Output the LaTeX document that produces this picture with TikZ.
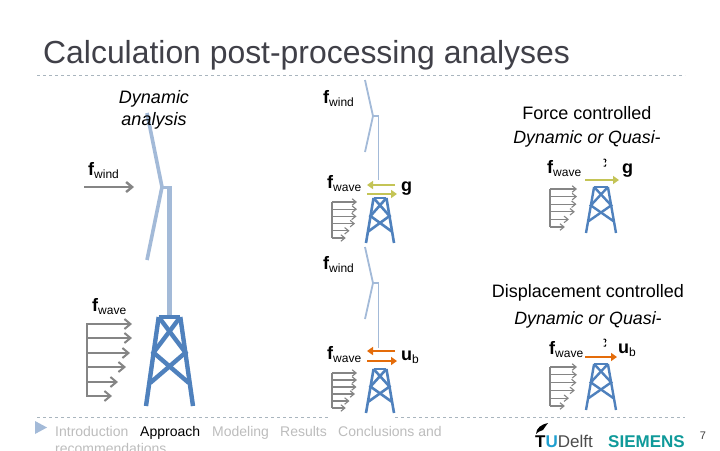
\documentclass[tikz,border=0pt]{standalone}
\usepackage{fontspec}
\setmainfont{Liberation Sans}
\usetikzlibrary{arrows.meta}
\definecolor{towerblue}{HTML}{A3BAD8}
\definecolor{jacketblue}{HTML}{4F81BD}
\definecolor{loadgray}{HTML}{858585}
\definecolor{forceyellow}{HTML}{C4C456}
\definecolor{dispOrange}{HTML}{E46C0A}
\definecolor{ruleGray}{HTML}{A9B5BE}
\definecolor{navGray}{HTML}{BDBDBD}
\definecolor{siemensTeal}{HTML}{0F9A9A}
\definecolor{delftBlue}{HTML}{1F9FD0}
\definecolor{titleGray}{HTML}{404048}
\tikzset{
  loadarrow/.style={-{Straight Barb[length=4pt,width=6.5pt]}, loadgray, line width=1.1pt},
  bigload/.style={-{Straight Barb[length=6pt,width=10pt]}, loadgray, line width=2.4pt},
  turnline/.style={towerblue, line width=1.8pt},
  forcearrow/.style={-{Triangle[length=6pt,width=8pt]}, forceyellow, line width=2.6pt},
  disparrow/.style={-{Triangle[length=6pt,width=8pt]}, dispOrange, line width=2.6pt},
  loadlabel/.style={inner sep=0pt, anchor=base west, font=\fontsize{18}{18}\selectfont},
  sublabel/.style={inner sep=0pt, font=\fontsize{18}{23}\selectfont, align=center},
  navitem/.style={inner sep=0pt, anchor=base west, navGray, font=\fontsize{14}{14}\selectfont},
  % blades and nacelle, origin at the hub
  pics/rotor/.style={code={
    \draw[turnline] (-8,-36) -- (0,0) -- (-8,36);
    \draw[turnline] (0,0) -- (6,0);
  }},
  % jacket, origin at top centre: line width, full width, full height
  pics/jacket/.style n args={3}{code={
    \begin{scope}[xscale=#2,yscale=#3,jacketblue,line width=#1]
      \draw (-.23,0) -- (.23,0);
      \draw (-.23,0) -- (-.5,1) (.23,0) -- (.5,1);
      \draw (-.23,0) -- (.34,.40) -- (-.41,.74);
      \draw (.23,0) -- (-.34,.40) -- (.41,.74);
    \end{scope}
  }},
  % wave profile, origin at top of the vertical bar: full length, full height
  pics/waveload/.style n args={2}{code={
    \begin{scope}[xscale=#1,yscale=#2]
      \draw[loadgray, line width=1.2pt] (0,0) -- (0,1);
      \foreach \y/\len in {0/1, .2/1, .4/.98, .6/.92, .8/.7, 1/.55}
        \draw[loadarrow] (0,\y) -- (\len,\y);
    \end{scope}
  }},
}
\newcommand{\subtext}[1]{\raisebox{-3.5pt}{\fontsize{12}{12}\selectfont #1}}
\newcommand{\fwind}{\textbf{f}\subtext{wind}}
\newcommand{\fwave}{\textbf{f}\subtext{wave}}
\newcommand{\ubase}{\textbf{u}\subtext{b}}
\begin{document}
\begin{tikzpicture}[x=1pt,y=-1pt]
\clip (0,0) rectangle (720,450);
\fill[white] (0,0) rectangle (720,450);

% title and rules
\node[inner sep=0pt, anchor=base west, titleGray, font=\fontsize{31.9}{32}\selectfont] (title) at (43,63) {Calculation post-processing analyses};
\draw[ruleGray, dashed] (37,75) -- (685,75);
\draw[ruleGray, dashed] (37,417) -- (328,417) (395,417) -- (685,417);

% large turbine
\draw[towerblue, line width=3.6pt] (147,113) -- (162,187) -- (147,260);
\draw[towerblue, line width=3pt] (162,187) -- (170,187);
\draw[towerblue, line width=4.4pt] (169.5,186) -- (169.5,317);
\pic at (169.5,317) {jacket={4.4pt}{47}{89}};
\node[sublabel, font=\fontsize{18}{22}\itshape] (dynamic) at (154,110) {Dynamic\\analysis};
\node[loadlabel] (fwindA) at (88,175) {\fwind};
\node[loadlabel] (fwaveA) at (92,311) {\fwave};
\coordinate (windA) at (84,187);
\coordinate (windB) at (134,187);
\draw[bigload] (windA) -- (windB);
\draw[loadgray, line width=2pt] (87.3,323) -- (87.3,397);
\foreach \y/\xend in {324/132, 338/132, 353/130, 367/126, 382/118, 396/112}
  \draw[bigload, line width=2pt] (87.3,\y) -- (\xend,\y);

% force controlled, dynamic
\pic at (373,116) {rotor};
\draw[turnline] (378.5,116) -- (378.5,180);
\pic at (380,198) {jacket={2.6pt}{28}{45}};
\pic at (332,202) {waveload={25}{36}};
\node[loadlabel] (fwindB) at (323,103) {\fwind};
\node[loadlabel] (fwaveB) at (327,188) {\fwave};
\node[loadlabel] (gB) at (401,191) {\textbf{g}};
\coordinate (gTopA) at (395,185);
\coordinate (gTopB) at (367,185);
\coordinate (gLowA) at (367,194);
\coordinate (gLowB) at (397,194);
\draw[forcearrow] (gTopA) -- (gTopB);
\draw[forcearrow] (gLowA) -- (gLowB);

% displacement controlled, dynamic
\pic at (373,283) {rotor};
\draw[turnline] (378.5,283) -- (378.5,348);
\pic at (380,369) {jacket={2.6pt}{28}{44}};
\pic at (332,373) {waveload={25}{35}};
\node[loadlabel] (fwindC) at (323,269) {\fwind};
\node[loadlabel] (fwaveC) at (327,359) {\fwave};
\node[loadlabel] (ubC) at (401,360) {\ubase};
\coordinate (uTopA) at (395,351);
\coordinate (uTopB) at (367,351);
\coordinate (uLowA) at (367,361);
\coordinate (uLowB) at (397,361);
\draw[disparrow] (uTopA) -- (uTopB);
\draw[disparrow] (uLowA) -- (uLowB);

% force controlled, quasi-static
\node[sublabel] (forceT) at (587,113) {Force controlled};
\node[sublabel, font=\fontsize{17.8}{20}\itshape] (forceS) at (587,139) {Dynamic or Quasi-};
\node[loadlabel] (fwaveD) at (547,173) {\fwave};
\node[loadlabel] (gD) at (622,173) {\textbf{g}};
\coordinate (gA) at (585,180);
\coordinate (gB) at (619,180);
\draw[forcearrow] (gA) -- (gB);
\draw[line width=1pt] (603.5,159) .. controls (606.5,158.5) and (606.5,162) .. (605,162.5) (606,164.5) .. controls (606,166) and (605,166.5) .. (603.5,166);
\pic at (601,187) {jacket={2.4pt}{30}{46}};
\pic at (550,189) {waveload={27}{38}};

% displacement controlled, quasi-static
\node[sublabel] (dispT) at (588,293) {Displacement controlled};
\node[sublabel, font=\fontsize{17.8}{20}\itshape] (dispS) at (588,320) {Dynamic or Quasi-};
\node[loadlabel] (fwaveE) at (549,354) {\fwave};
\node[loadlabel] (ubE) at (618,353) {\ubase};
\coordinate (uA) at (585,357);
\coordinate (uB) at (617,357);
\draw[disparrow] (uA) -- (uB);
\draw[line width=1pt] (603.5,339) .. controls (606.5,338.5) and (606.5,342) .. (605,342.5) (606,344.5) .. controls (606,346) and (605,346.5) .. (603.5,346);
\pic at (601,364) {jacket={2.4pt}{30}{46}};
\pic at (550,367) {waveload={27}{39}};

% footer
\fill[towerblue] (35,421) -- (47,427.5) -- (35,434) -- cycle;
\node[navitem] (navA) at (55,436) {Introduction};
\node[navitem, black] (navB) at (140,436) {Approach};
\node[navitem] (navC) at (212,436) {Modeling};
\node[navitem] (navD) at (280,436) {Results};
\node[navitem] (navE) at (338,436) {Conclusions and};
\node[navitem] (navF) at (55,453) {recommendations};
\node[inner sep=0pt, anchor=base west, font=\fontsize{17}{17}\selectfont] (tud) at (535,447) {\textbf{T\textcolor{delftBlue}{U}}\textcolor{black!70}{Delft}};
\fill (548,423) .. controls (542,424) and (536,428) .. (536,434) .. controls (539,431) and (541,431) .. (543,430) .. controls (544,428) and (546,426) .. cycle;
\node[inner sep=0pt, anchor=base west, siemensTeal, font=\fontsize{17}{17}\bfseries\selectfont] (siemens) at (608,447) {SIEMENS};
\node[inner sep=0pt, black!75, font=\fontsize{11}{11}\selectfont] (page) at (703,436) {7};
\end{tikzpicture}
\end{document}
